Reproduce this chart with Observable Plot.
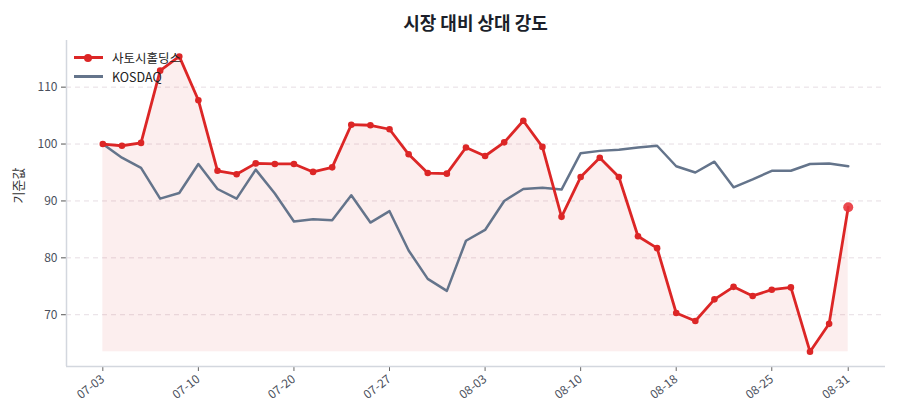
<!DOCTYPE html>
<html>
<head>
<meta charset="utf-8">
<script src="https://cdn.jsdelivr.net/npm/d3@7"></script>
<script src="https://cdn.jsdelivr.net/npm/@observablehq/plot@0.6"></script>
<style>
  html, body { margin: 0; padding: 0; background: #fff; }
  body { width: 900px; height: 420px; position: relative; overflow: hidden; font-family: "Noto Sans CJK KR", "Noto Sans", sans-serif; }
  #title { position: absolute; left: 66px; width: 819px; top: 8px; text-align: center; font-size: 18px; font-weight: 700; color: #1b1f2a; line-height: 28px; }
  #legend { position: absolute; left: 74px; top: 48px; font-size: 12.5px; color: #222; }
  .lg { display: flex; align-items: center; height: 19px; }
  .sw { position: relative; width: 29px; height: 3px; margin-right: 9px; }
  .sw i { position: absolute; left: 10px; top: -2.5px; width: 8px; height: 8px; border-radius: 50%; }
  #chart { position: absolute; left: 0; top: 0; }
</style>
</head>
<body>
<div id="chart"></div>
<div id="title">시장 대비 상대 강도</div>
<div id="legend">
  <div class="lg"><span class="sw" style="background:#dc2626"><i style="background:#dc2626"></i></span>사토시홀딩스</div>
  <div class="lg"><span class="sw" style="background:#64748b"></span>KOSDAQ</div>
</div>
<script>
const dates = [
  "07-03","07-04","07-05","07-06","07-07","07-10","07-11","07-13","07-17","07-18",
  "07-20","07-21","07-24","07-25","07-26","07-27","07-28","07-31","08-01","08-02",
  "08-03","08-04","08-07","08-08","08-09","08-10","08-11","08-14","08-16","08-17",
  "08-18","08-21","08-22","08-23","08-24","08-25","08-28","08-29","08-30","08-31"
];
const stock = [
  100.0, 99.7, 100.2, 112.9, 115.4, 107.7, 95.3, 94.7, 96.6, 96.5,
  96.5, 95.1, 95.9, 103.4, 103.3, 102.6, 98.2, 94.9, 94.8, 99.4,
  97.9, 100.3, 104.1, 99.5, 87.2, 94.2, 97.6, 94.2, 83.8, 81.7,
  70.3, 68.9, 72.7, 74.9, 73.3, 74.4, 74.8, 63.5, 68.4, 88.9
];
const kosdaq = [
  100.0, 97.6, 95.8, 90.4, 91.4, 96.5, 92.1, 90.4, 95.5, 91.3,
  86.4, 86.8, 86.6, 91.0, 86.2, 88.2, 81.3, 76.3, 74.2, 83.0,
  84.9, 90.0, 92.1, 92.3, 92.0, 98.4, 98.8, 99.0, 99.4, 99.7,
  96.1, 95.0, 96.9, 92.4, 93.8, 95.3, 95.3, 96.5, 96.6, 96.1
];
const yTicks = [70, 80, 90, 100, 110];
const xTickIdx = [0, 5, 10, 15, 20, 25, 30, 35, 39];

const stockData = stock.map((v, i) => ({i, v}));
const kosdaqData = kosdaq.map((v, i) => ({i, v}));
const base = d3.min(stock);
const last = stockData.slice(-1);

const red = "#dc2626";
const slate = "#64748b";

const chart = Plot.plot({
  width: 900,
  height: 420,
  marginTop: 40,
  marginLeft: 66,
  marginRight: 15,
  marginBottom: 54,
  style: {fontFamily: "'Noto Sans CJK KR', 'Noto Sans', sans-serif", fontSize: "12px", color: "#4a4f5c", background: "#fff"},
  x: {domain: [-1.9, 40.95]},
  y: {domain: [60.9, 118.2]},
  marks: [
    Plot.gridY(yTicks, {stroke: "#e6dde3", strokeOpacity: 1, strokeDasharray: "5,4", strokeWidth: 1}),
    Plot.areaY(stockData, {x: "i", y1: base, y2: "v", fill: red, fillOpacity: 0.08}),
    Plot.lineY(kosdaqData, {x: "i", y: "v", stroke: slate, strokeWidth: 2.5}),
    Plot.lineY(stockData, {x: "i", y: "v", stroke: red, strokeWidth: 2.8}),
    Plot.dot(stockData.slice(0, -1), {x: "i", y: "v", r: 3.3, fill: red}),
    Plot.dot(last, {x: "i", y: "v", r: 5, fill: "#e8353c", fillOpacity: 0.9}),
    Plot.axisY(yTicks, {tickSize: 5, tickPadding: 4, stroke: "#555", fill: "#4a4f5c", fontSize: 12, label: null}),
    Plot.axisX(xTickIdx, {tickSize: 5, tickPadding: 6, tickRotate: -38, fontSize: 12, tickFormat: i => dates[i], stroke: "#666", fill: "#4a4f5c", label: null}),
    Plot.ruleX([-1.9], {stroke: "#d3d7de", strokeWidth: 1.5}),
    Plot.ruleY([60.9], {stroke: "#d3d7de", strokeWidth: 1.5}),
    Plot.text(["기준값"], {frameAnchor: "left", dx: -48, rotate: -90, fontSize: 13, fill: "#333"})
  ]
});
document.getElementById("chart").appendChild(chart);
</script>
</body>
</html>
